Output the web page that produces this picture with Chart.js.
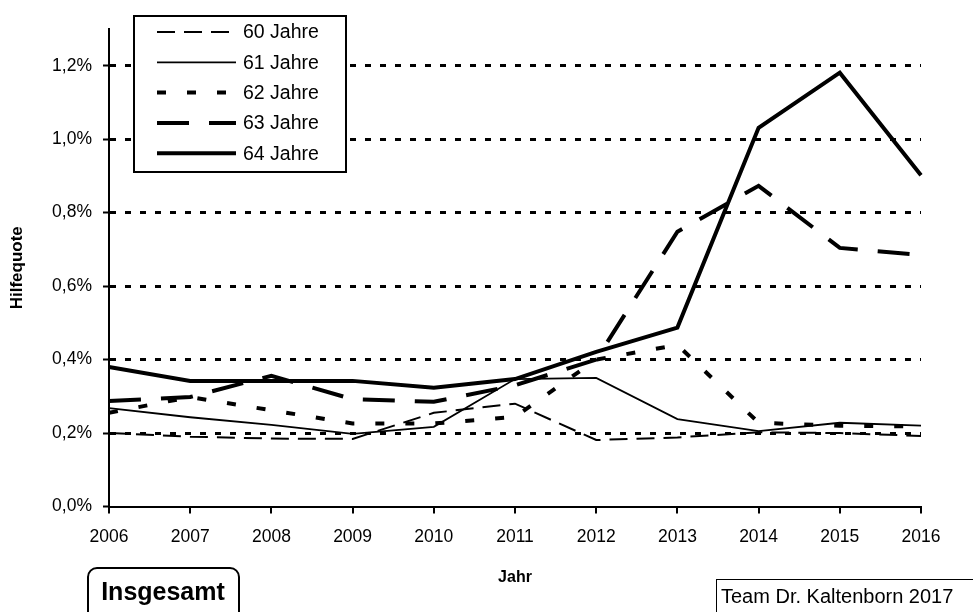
<!DOCTYPE html>
<html>
<head>
<meta charset="utf-8">
<script src="https://cdn.jsdelivr.net/npm/chart.js@4"></script>
<style>
  body { margin: 0; background: #fff; }
  canvas { display: block; }
</style>
</head>
<body>
<canvas id="hilfequoteChart" width="973" height="612"></canvas>
<script>
// years on the x axis
const years = ["2006", "2007", "2008", "2009", "2010", "2011", "2012", "2013", "2014", "2015", "2016"];

// Hilfequote in percent, per age group
const quote60 = [0.200, 0.190, 0.185, 0.184, 0.255, 0.280, 0.181, 0.188, 0.202, 0.200, 0.192];
const quote61 = [0.268, 0.243, 0.222, 0.198, 0.217, 0.347, 0.350, 0.238, 0.205, 0.228, 0.220];
const quote62 = [0.255, 0.298, 0.262, 0.226, 0.226, 0.244, 0.400, 0.440, 0.228, 0.220, 0.218];
const quote63 = [0.287, 0.298, 0.356, 0.292, 0.285, 0.330, 0.400, 0.748, 0.873, 0.704, 0.685];
const quote64 = [0.380, 0.342, 0.342, 0.342, 0.323, 0.347, 0.421, 0.487, 1.031, 1.181, 0.902];

const seriesLabels = ["60 Jahre", "61 Jahre", "62 Jahre", "63 Jahre", "64 Jahre"];
const yTickValues = [0, 0.2, 0.4, 0.6, 0.8, 1.0, 1.2];

const FONT = "'Liberation Sans', Arial, sans-serif";
Chart.defaults.font.family = FONT;
Chart.defaults.color = "#000";

const makeLine = (label, data, width, dash) => ({
  label: label,
  data: data,
  borderColor: "#000",
  borderWidth: width,
  borderDash: dash,
  pointRadius: 0,
  tension: 0,
  fill: false,
});

// legend box, plus the two little boxes at the bottom
const extrasPlugin = {
  id: "extras",
  afterDraw(chart) {
    const ctx = chart.ctx;
    ctx.save();

    // legend
    ctx.fillStyle = "#fff";
    ctx.fillRect(134, 16, 212, 156);
    ctx.strokeStyle = "#000";
    ctx.lineWidth = 2;
    ctx.strokeRect(134, 16, 212, 156);
    ctx.font = "19.5px " + FONT;
    ctx.textBaseline = "middle";
    chart.data.datasets.forEach((ds, i) => {
      const y = 32 + i * 30.3;
      ctx.beginPath();
      ctx.setLineDash(ds.borderDash);
      ctx.lineWidth = ds.borderWidth;
      ctx.moveTo(157, y);
      ctx.lineTo(236, y);
      ctx.stroke();
      ctx.setLineDash([]);
      ctx.fillStyle = "#000";
      ctx.fillText(ds.label, 243, y + 1);
    });

    // "Insgesamt" box
    ctx.lineWidth = 2;
    ctx.beginPath();
    ctx.roundRect(88, 568, 151, 60, 9);
    ctx.stroke();
    ctx.font = "bold 25px " + FONT;
    ctx.textAlign = "center";
    ctx.fillText("Insgesamt", 163, 593);

    // source box
    ctx.lineWidth = 1;
    ctx.strokeRect(716.5, 579.5, 260, 40);
    ctx.font = "20px " + FONT;
    ctx.textAlign = "left";
    ctx.fillText("Team Dr. Kaltenborn 2017", 721, 597);

    ctx.restore();
  },
};

const ctx = document.getElementById("hilfequoteChart").getContext("2d");
window.hilfequoteChart = new Chart(ctx, {
  type: "line",
  data: {
    labels: years,
    datasets: [
      makeLine(seriesLabels[0], quote60, 2, [18, 9]),
      makeLine(seriesLabels[1], quote61, 1.8, []),
      makeLine(seriesLabels[2], quote62, 4, [9, 21]),
      makeLine(seriesLabels[3], quote63, 4, [32, 20]),
      makeLine(seriesLabels[4], quote64, 4, []),
    ],
  },
  options: {
    responsive: false,
    animation: false,
    layout: { padding: { left: 0, right: 52, top: 29, bottom: 0 } },
    plugins: {
      legend: { display: false },
      tooltip: { enabled: false },
    },
    scales: {
      x: {
        type: "category",
        offset: false,
        afterFit: (scale) => { scale.height = 105.5; },
        grid: {
          drawOnChartArea: false,
          tickLength: 7,
          color: "#000",
          lineWidth: 2,
        },
        border: { color: "#000", width: 2 },
        ticks: { font: { size: 17.5 }, padding: 13, maxRotation: 0 },
        title: {
          display: true,
          text: "Jahr",
          font: { size: 16, weight: "bold" },
          padding: { top: 0, bottom: 25 },
        },
      },
      y: {
        min: 0,
        max: 1.3,
        afterFit: (scale) => { scale.width = 109; },
        afterBuildTicks: (scale) => {
          scale.ticks = yTickValues.map((v) => ({ value: v }));
        },
        grid: {
          color: (c) => (c.tick && c.tick.value === 0 ? "rgba(0,0,0,0)" : "#000"),
          lineWidth: 3,
          tickLength: 6,
          tickColor: "#000",
          tickWidth: 2,
        },
        border: { color: "#000", width: 2, dash: [6, 9] },
        ticks: {
          font: { size: 17.5 },
          padding: 11,
          callback: (v) => v.toFixed(1).replace(".", ",") + "%",
        },
        title: {
          display: true,
          text: "Hilfequote",
          font: { size: 17, weight: "bold" },
          padding: { top: 7, bottom: 0 },
        },
      },
    },
  },
  plugins: [extrasPlugin],
});
</script>
</body>
</html>
